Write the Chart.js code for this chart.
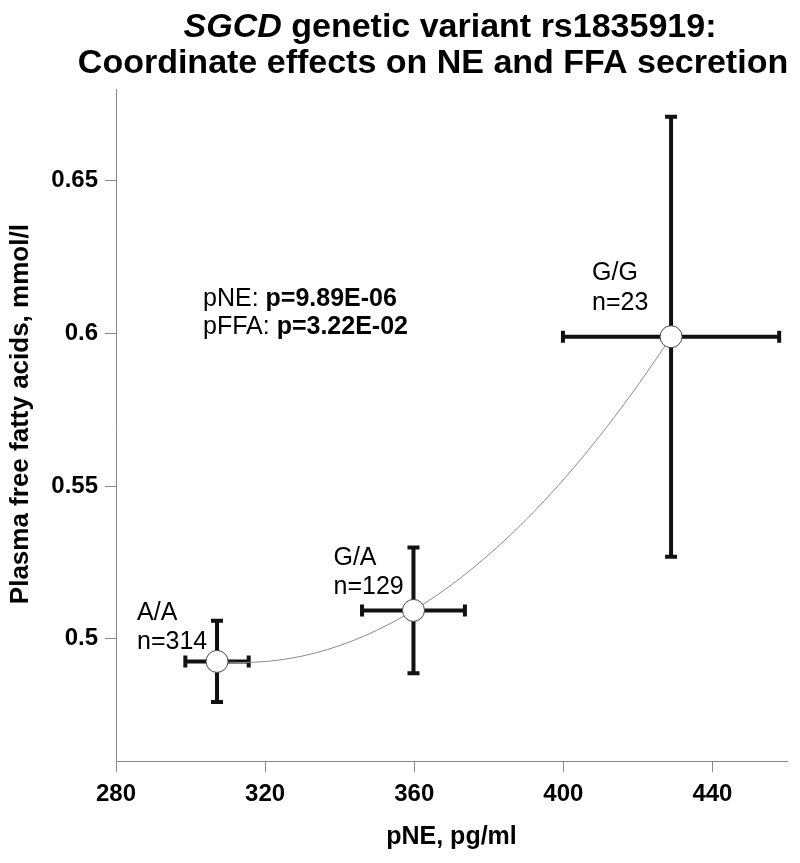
<!DOCTYPE html>
<html>
<head>
<meta charset="utf-8">
<script src="https://cdn.jsdelivr.net/npm/chart.js@4/dist/chart.umd.min.js"></script>
<style>
  html, body { margin: 0; padding: 0; background: #fff; }
  #wrap { width: 800px; height: 863px; position: relative; }
</style>
</head>
<body>
<div id="wrap"><canvas id="c"></canvas></div>
<script>
// ---- Data ----
const genotypes = ['A/A', 'G/A', 'G/G'];
const counts = ['n=314', 'n=129', 'n=23'];
const pneMean = [307.1, 359.8, 428.9];      // pg/ml
const pneErr = [8.5, 13.8, 29.0];           // +/- pg/ml
const ffaMean = [0.4926, 0.5093, 0.5989];   // mmol/l
const ffaErr = [0.0133, 0.0206, 0.0720];    // +/- mmol/l
const xTicks = [280, 320, 360, 400, 440];
const yTicks = [0.5, 0.55, 0.6, 0.65];
const yTickLabels = ['0.5', '0.55', '0.6', '0.65'];
const statNames = ['pNE: ', 'pFFA: '];
const statValues = ['p=9.89E-06', 'p=3.22E-02'];
const titleItalic = 'SGCD';
const titleRest = ' genetic variant rs1835919:';
const titleLine2 = 'Coordinate effects on NE and FFA secretion';
const xTitle = 'pNE, pg/ml';
const yTitle = '   Plasma free fatty acids, mmol/l';

const FONT = '"Liberation Sans", Arial, Helvetica, sans-serif';

// label offsets relative to point (pixels): [dx, dyLine1, dyLine2]
const labelOffsets = [[-80, -41, -12], [-80, -45, -16], [-79, -57, -27]];

const pts = pneMean.map((x, i) => ({ x: x, y: ffaMean[i] }));

// Smooth convex connector: set the bezier control points of the Chart.js line
// from the tangents of the quadratic passing through the three plotted points.
const smoothCurvePlugin = {
  id: 'smoothCurve',
  beforeDatasetDraw(chart, args) {
    if (args.index !== 0) return;
    const meta = args.meta;
    const line = meta.dataset;
    line.updateControlPoints(chart.chartArea, 'x');
    const p = meta.data;
    if (p.length !== 3) return;
    const x0 = p[0].x, y0 = p[0].y, x1 = p[1].x, y1 = p[1].y, x2 = p[2].x, y2 = p[2].y;
    const s01 = (y1 - y0) / (x1 - x0), s12 = (y2 - y1) / (x2 - x1);
    const c = (s12 - s01) / (x2 - x0);
    const m = [s01 - c * (x1 - x0), s01 + c * (x1 - x0), s12 + c * (x2 - x1)];
    for (let i = 0; i < 3; i++) {
      const dxPrev = i > 0 ? (p[i].x - p[i - 1].x) / 3 : 0;
      const dxNext = i < 2 ? (p[i + 1].x - p[i].x) / 3 : 0;
      p[i].cp1x = p[i].x - dxPrev; p[i].cp1y = p[i].y - m[i] * dxPrev;
      p[i].cp2x = p[i].x + dxNext; p[i].cp2y = p[i].y + m[i] * dxNext;
    }
    line._path = undefined;
  }
};

const errorBarPlugin = {
  id: 'errorBars',
  beforeDatasetsDraw(chart) {
    const { ctx, scales: { x, y } } = chart;
    ctx.save();
    ctx.strokeStyle = '#111';
    ctx.lineWidth = 4;
    ctx.lineCap = 'butt';
    const cap = 6;
    pneMean.forEach((xv, i) => {
      const cx = x.getPixelForValue(xv);
      const cy = y.getPixelForValue(ffaMean[i]);
      const xl = x.getPixelForValue(xv - pneErr[i]);
      const xr = x.getPixelForValue(xv + pneErr[i]);
      const yt = y.getPixelForValue(ffaMean[i] + ffaErr[i]);
      const yb = y.getPixelForValue(ffaMean[i] - ffaErr[i]);
      ctx.beginPath();
      ctx.moveTo(xl, cy); ctx.lineTo(xr, cy);
      ctx.moveTo(cx, yt); ctx.lineTo(cx, yb);
      ctx.moveTo(xl, cy - cap); ctx.lineTo(xl, cy + cap);
      ctx.moveTo(xr, cy - cap); ctx.lineTo(xr, cy + cap);
      ctx.moveTo(cx - cap, yt); ctx.lineTo(cx + cap, yt);
      ctx.moveTo(cx - cap, yb); ctx.lineTo(cx + cap, yb);
      ctx.stroke();
    });
    ctx.restore();
  }
};

const textPlugin = {
  id: 'texts',
  afterDraw(chart) {
    const { ctx, scales: { x, y }, chartArea } = chart;
    ctx.save();
    ctx.fillStyle = '#000';
    ctx.textBaseline = 'alphabetic';
    const tf = 34;
    ctx.font = 'italic bold ' + tf + 'px ' + FONT;
    const w1 = ctx.measureText(titleItalic).width;
    ctx.font = 'bold ' + tf + 'px ' + FONT;
    const w2 = ctx.measureText(titleRest).width;
    const sx = 450 - (w1 + w2) / 2;
    ctx.textAlign = 'left';
    ctx.font = 'italic bold ' + tf + 'px ' + FONT;
    ctx.fillText(titleItalic, sx, 37);
    ctx.font = 'bold ' + tf + 'px ' + FONT;
    ctx.fillText(titleRest, sx + w1, 37);
    ctx.textAlign = 'center';
    ctx.fillText(titleLine2, 433, 73);

    ctx.textAlign = 'left';
    ctx.font = '25px ' + FONT;
    genotypes.forEach((g, i) => {
      const px = x.getPixelForValue(pneMean[i]);
      const py = y.getPixelForValue(ffaMean[i]);
      const o = labelOffsets[i];
      ctx.fillText(g, px + o[0], py + o[1]);
      ctx.fillText(counts[i], px + o[0], py + o[2]);
    });

    const sx0 = chartArea.left + 87;
    const sy0 = chartArea.top + 217;
    statNames.forEach((n, i) => {
      ctx.font = '25px ' + FONT;
      const wn = ctx.measureText(n).width;
      ctx.fillText(n, sx0, sy0 + i * 28);
      ctx.font = 'bold 25px ' + FONT;
      ctx.fillText(statValues[i], sx0 + wn, sy0 + i * 28);
    });
    ctx.restore();
  }
};

new Chart(document.getElementById('c'), {
  type: 'scatter',
  data: {
    datasets: [
      {
        type: 'line',
        data: pts,
        borderColor: '#8a8a8a',
        borderWidth: 1,
        pointRadius: 0,
        fill: false,
        tension: 0.4,
        order: 2
      },
      {
        type: 'scatter',
        data: pts,
        pointRadius: 11,
        pointHoverRadius: 11,
        pointBackgroundColor: '#fff',
        pointBorderColor: '#444',
        pointBorderWidth: 1,
        order: 1
      }
    ]
  },
  plugins: [smoothCurvePlugin, errorBarPlugin, textPlugin],
  options: {
    responsive: true,
    maintainAspectRatio: false,
    animation: false,
    events: [],
    layout: { padding: { top: 89, right: 13, left: 0, bottom: 0 } },
    plugins: { legend: { display: false }, title: { display: false }, tooltip: { enabled: false } },
    scales: {
      x: {
        type: 'linear',
        min: 280, max: 460,
        afterBuildTicks: (s) => { s.ticks = xTicks.map(v => ({ value: v })); },
        afterFit: (s) => { s.height = 102; },
        ticks: { color: '#000', font: { family: FONT, size: 24, weight: 'bold' }, padding: 8, maxRotation: 0, autoSkip: false,
                 callback: (v) => String(v) },
        grid: { drawOnChartArea: false, tickLength: 11, color: '#888', lineWidth: 1 },
        border: { color: '#888', width: 1 },
        title: { display: true, text: xTitle, color: '#000', font: { family: FONT, size: 25, weight: 'bold' }, padding: { top: 0, bottom: 11 } }
      },
      y: {
        type: 'linear',
        min: 0.46, max: 0.68,
        afterBuildTicks: (s) => { s.ticks = yTicks.map(v => ({ value: v })); },
        afterFit: (s) => { s.width = 116; },
        ticks: { color: '#000', font: { family: FONT, size: 24, weight: 'bold' }, padding: 7, autoSkip: false,
                 callback: (v) => { const k = yTicks.findIndex(t => Math.abs(t - v) < 1e-9); return k >= 0 ? yTickLabels[k] : ''; } },
        grid: { drawOnChartArea: false, tickLength: 11, color: '#888', lineWidth: 1 },
        border: { color: '#888', width: 1 },
        title: { display: true, text: yTitle, color: '#000', font: { family: FONT, size: 26, weight: 'bold' }, padding: { top: 5, bottom: 0 } }
      }
    }
  }
});
</script>
</body>
</html>
